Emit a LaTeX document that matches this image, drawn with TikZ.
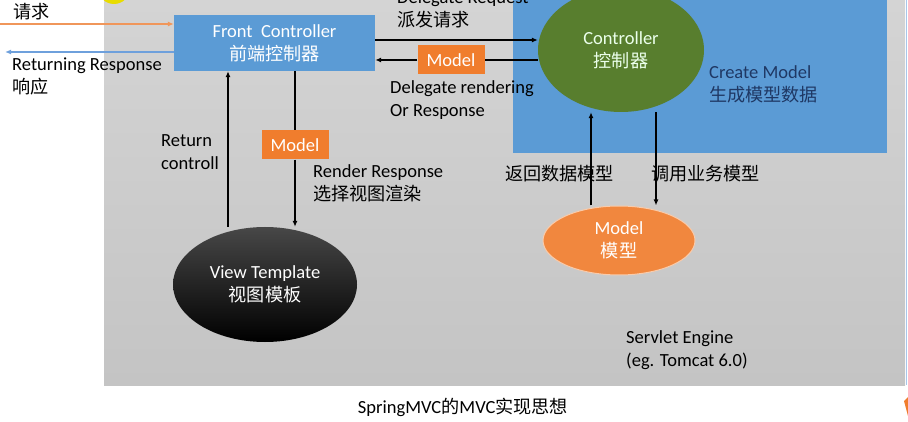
\documentclass[tikz,border=0pt]{standalone}
\usepackage{fontspec}
\setmainfont{Carlito}
\newfontfamily\cjk{Noto Sans CJK SC}[Scale=0.98]
\usetikzlibrary{arrows.meta,shapes.geometric}
\definecolor{boxblue}{RGB}{91,155,213}
\definecolor{ctrlgreen}{RGB}{88,126,46}
\definecolor{modelorange}{RGB}{240,125,45}
\definecolor{enginetop}{RGB}{212,212,212}
\definecolor{enginebot}{RGB}{196,196,196}
\definecolor{navy}{RGB}{31,56,100}
\definecolor{reqorange}{RGB}{240,150,90}
\definecolor{respblue}{RGB}{110,160,220}
\newcommand{\zh}[1]{{\cjk #1}}

\begin{document}
\begin{tikzpicture}[x=1pt, y=-1pt,
  every node/.style = {font=\fontsize{18.5}{23}\selectfont, inner sep=0pt},
  txt/.style = {anchor=base west, align=left},
  arr/.style = {line width=1.3pt, -{Latex[length=6pt,width=5pt]}},
  plain/.style = {line width=1.3pt},
  modeltag/.style = {fill=modelorange, text=white,
    minimum width=67pt, minimum height=29pt}]
  \useasboundingbox (0,0) rectangle (908,422);
  \shade[top color=enginetop, bottom color=enginebot] (104,0) rectangle (905,385);
  \draw[respblue!60, line width=1pt] (906,0) -- (906,385);
  \fill[boxblue] (513,-5) rectangle (887,153);
  \fill[yellow!80!olive] (114,-12) circle (16);
  \fill[modelorange] (904,401) -- (908,397) -- (908,416) -- cycle;

  \node[rectangle, fill=boxblue, text=white, align=center,
    minimum width=201pt, minimum height=56pt] (front) at (274.5,43)
    {Front\ \ Controller\\\zh{前端控制器}};
  \node[ellipse, fill=ctrlgreen, text=green!8!white, align=center,
    minimum width=166pt, minimum height=124pt] (ctrl) at (621,50)
    {Controller\\\zh{控制器}};
  \node[ellipse, fill=modelorange!92!white, draw=modelorange!40!white,
    line width=1pt, text=white, align=center,
    minimum width=152pt, minimum height=69pt] (model) at (619,240.5)
    {Model\\\zh{模型}};
  \node[ellipse, top color=black!72, bottom color=black, text=white,
    align=center, minimum width=184pt, minimum height=115pt] (view)
    at (265,284.5) {View Template\\\zh{视图模板}};
  \node[modeltag] (tagA) at (451,60) {Model};
  \node[modeltag] (tagB) at (295,145) {Model};

  \coordinate (client) at (0,24);
  \coordinate (browser) at (5,52);
  \coordinate (reqY) at (0,40);
  \coordinate (retX) at (228,0);
  \coordinate (getX) at (591,0);
  \coordinate (callX) at (656,0);

  \draw[arr, reqorange, line width=1.4pt] (client) -- (front.west |- client);
  \draw[arr, respblue, line width=1.2pt] (front.west |- browser) -- (browser);
  \draw[arr] (front.east |- reqY) -- (ctrl.west |- reqY);
  \draw[plain] (ctrl.west |- tagA) -- (tagA.east);
  \draw[arr] (tagA.west) -- (front.east |- tagA);
  \draw[arr] (view.north -| retX) -- (front.south -| retX);
  \draw[plain] (front.south -| tagB) -- (tagB.north);
  \draw[arr] (tagB.south) -- (view.north -| tagB);
  \draw[arr] (model.north -| getX) -- (ctrl.south -| getX);
  \draw[arr] (ctrl.south -| callX) -- (model.north -| callX);

  \node[txt] (reqtxt) at (13,19) {\zh{请求}};
  \node[txt] (resptxt) at (12,94) {Returning Response\\\zh{响应}};
  \node[txt] (dreq) at (397,27) {Delegate Request\\\zh{派发请求}};
  \node[txt] (drend) at (390,117) {Delegate rendering\\Or Response};
  \node[txt, text=navy] (cmodel) at (709,102) {Create Model\\\zh{生成模型数据}};
  \node[txt] (retctl) at (161,170) {Return\\controll};
  \node[txt] (rresp) at (313,201) {Render Response\\\zh{选择视图渲染}};
  \node[txt] (getm) at (505,181) {\zh{返回数据模型}};
  \node[txt] (callm) at (651,181) {\zh{调用业务模型}};
  \node[txt] (engtxt) at (626,366) {Servlet Engine\\(eg. Tomcat 6.0)};
  \node[anchor=base] (caption) at (463,413) {SpringMVC\zh{的}MVC\zh{实现思想}};
\end{tikzpicture}
\end{document}
